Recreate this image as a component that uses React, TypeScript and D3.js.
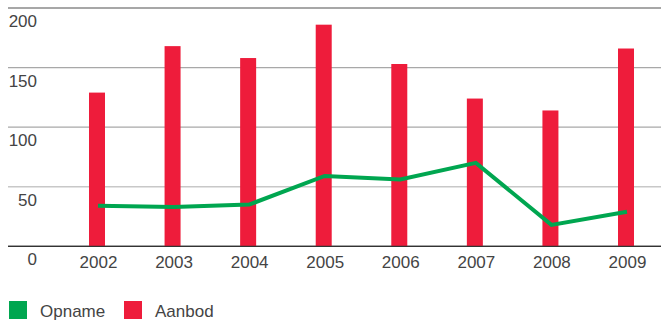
import React from "react";
import * as d3 from "d3";

const years = ["2002", "2003", "2004", "2005", "2006", "2007", "2008", "2009"];
const aanbod = [129, 168, 158, 186, 153, 124, 114, 166];
const opname = [34, 33, 35, 59, 56, 70, 18, 29];
const yTicks = [0, 50, 100, 150, 200];
const legendLabels = ["Opname", "Aanbod"];

const W = 661;
const H = 320;
const RED = "#ee1c3b";
const GREEN = "#00a650";
const FONT = "'Liberation Sans', Arial, Helvetica, sans-serif";

export default function App() {
  const y = d3.scaleLinear().domain([0, 200]).range([246.3, 8]);
  const x = d3.scalePoint<string>().domain(years).range([97, 626]);
  const barW = 16;
  const line = d3
    .line<number>()
    .x((_, i) => (x(years[i]) as number) + 1)
    .y((d) => y(d));

  const gridColor = (t: number) =>
    t === 200 ? "#8a8a8a" : t === 0 ? "#333" : t === 50 ? "#c8c8c8" : "#a8a8a8";

  return (
    <svg
      width={W}
      height={H}
      style={{ position: "absolute", left: 0, top: 0, background: "#fff" }}
      fontFamily={FONT}
    >
      {yTicks.map((t) => (
        <line
          key={"g" + t}
          x1={t === 0 ? 8 : 8}
          x2={W}
          y1={y(t)}
          y2={y(t)}
          stroke={gridColor(t)}
          strokeWidth={t === 200 ? 1.6 : 1.3}
        />
      ))}
      {yTicks.map((t) => (
        <text
          key={"t" + t}
          x={37}
          y={y(t) + 19}
          textAnchor="end"
          fontSize={17}
          fill="#444"
        >
          {t}
        </text>
      ))}
      {years.map((yr, i) => (
        <rect
          key={"b" + yr}
          x={(x(yr) as number) - barW / 2}
          y={y(aanbod[i])}
          width={barW}
          height={y(0) - y(aanbod[i])}
          fill={RED}
        />
      ))}
      <path
        d={line(opname) || ""}
        fill="none"
        stroke={GREEN}
        strokeWidth={4}
        strokeLinejoin="miter"
      />
      <line x1={8} x2={W} y1={y(0)} y2={y(0)} stroke="#333" strokeWidth={1.3} />
      {years.map((yr) => (
        <text
          key={"x" + yr}
          x={(x(yr) as number) + 1.5}
          y={268}
          textAnchor="middle"
          fontSize={17}
          fill="#444"
        >
          {yr}
        </text>
      ))}
      <g>
        <rect x={9} y={301} width={18} height={18} fill={GREEN} />
        <text x={40} y={317} fontSize={17} fill="#444">
          {legendLabels[0]}
        </text>
        <rect x={124} y={301} width={18} height={18} fill={RED} />
        <text x={155} y={317} fontSize={17} fill="#444">
          {legendLabels[1]}
        </text>
      </g>
    </svg>
  );
}
